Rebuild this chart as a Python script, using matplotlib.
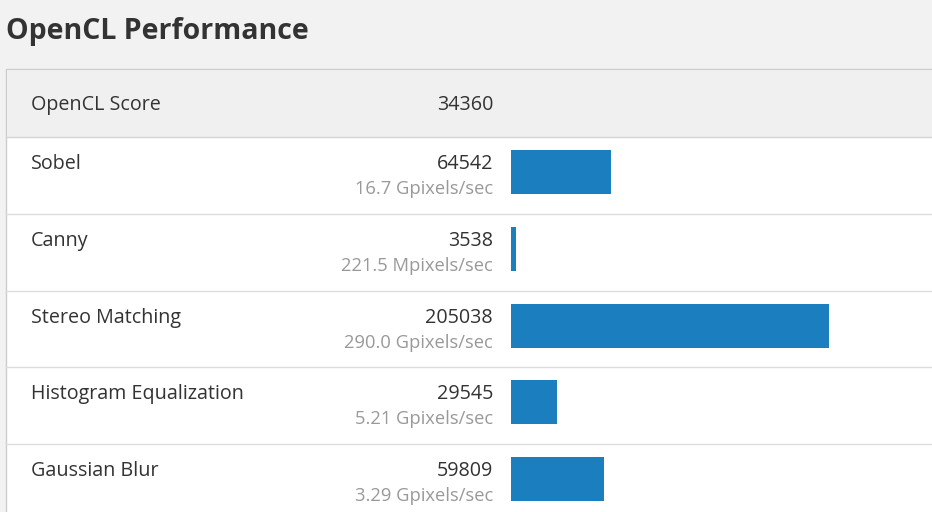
import matplotlib
matplotlib.use("Agg")
import matplotlib.pyplot as plt

title = "OpenCL Performance"
score_label = "OpenCL Score"
score_value = 34360
names = ["Sobel", "Canny", "Stereo Matching", "Histogram Equalization", "Gaussian Blur"]
scores = [64542, 3538, 205038, 29545, 59809]
rates = ["16.7 Gpixels/sec", "221.5 Mpixels/sec", "290.0 Gpixels/sec", "5.21 Gpixels/sec", "3.29 Gpixels/sec"]

W, H = 932, 512
fig = plt.figure(figsize=(W/100, H/100), dpi=100)
fig.patch.set_facecolor("#f2f2f2")
ax = fig.add_axes([0, 0, 1, 1])
ax.set_xlim(0, W); ax.set_ylim(H, 0); ax.axis("off")
plt.rcParams['font.family'] = ['Open Sans', 'DejaVu Sans']

ax.text(6, 31, title, fontsize=20.5, fontweight="bold", color="#333333", va="center", ha="left")
# panel
ax.add_patch(plt.Rectangle((6, 69), 1000, 500, facecolor="white", edgecolor="#cccccc", lw=1))
ax.add_patch(plt.Rectangle((6.5, 69.5), 1000, 67.5, facecolor="#f0f0f0", edgecolor="none"))
ax.plot([6, W], [137, 137], color="#d5d5d5", lw=1)
ax.text(31, 105, score_label, fontsize=14.2, color="#333333", va="center")
ax.text(493, 105, str(score_value), fontsize=14.2, color="#333333", va="center", ha="right")

row_h = 76.8
tops = [137 + i*row_h for i in range(len(names))]
for t, n, s, r in zip(tops, names, scores, rates):
    if t > 137:
        ax.plot([6, W], [t, t], color="#dddddd", lw=1)
    ax.text(31, t+27, n, fontsize=14.2, color="#333333", va="center")
    ax.text(493, t+27, str(s), fontsize=14.2, color="#333333", va="center", ha="right")
    ax.text(493, t+52, r, fontsize=13.2, color="#999999", va="center", ha="right")

# bars
bx = fig.add_axes([511/W, 0, (W-511)/W, 1])
bx.set_xlim(0, 205038 * (W-511) / 318)
bx.set_ylim(H, 0)
bx.axis("off"); bx.patch.set_alpha(0)
bx.barh([t+13+22 for t in tops], scores, height=44, left=0, color="#1a7ebf")

fig.savefig("out.png", dpi=100, facecolor=fig.get_facecolor())
